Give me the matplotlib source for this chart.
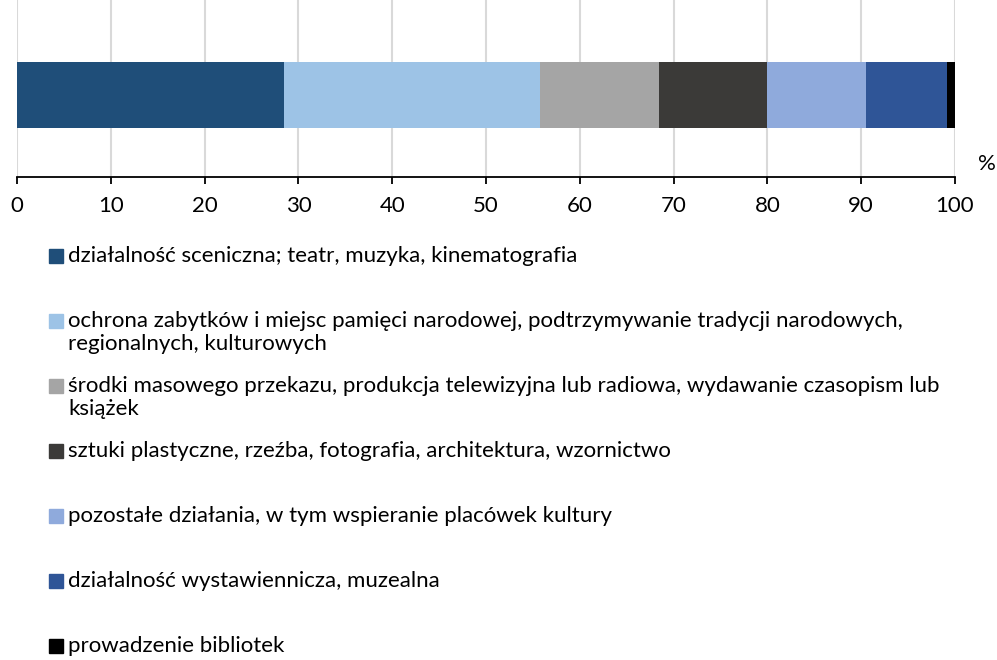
import matplotlib.pyplot as plt
from matplotlib.patches import Rectangle

plt.rcParams['font.family'] = ['Lato', 'DejaVu Sans']

W, H, DPI = 997, 660, 100

categories = [
    'działalność sceniczna; teatr, muzyka, kinematografia',
    'ochrona zabytków i miejsc pamięci narodowej, podtrzymywanie tradycji narodowych,\nregionalnych, kulturowych',
    'środki masowego przekazu, produkcja telewizyjna lub radiowa, wydawanie czasopism lub\nksiążek',
    'sztuki plastyczne, rzeźba, fotografia, architektura, wzornictwo',
    'pozostałe działania, w tym wspieranie placówek kultury',
    'działalność wystawiennicza, muzealna',
    'prowadzenie bibliotek',
]
shares = [28.5, 27.3, 12.6, 11.6, 10.5, 8.6, 0.9]
colors = ['#1f4e79', '#9dc3e6', '#a5a5a5', '#3b3a38', '#8faadc', '#2f5597', '#000000']
ticks = [0, 10, 20, 30, 40, 50, 60, 70, 80, 90, 100]

FS = 16

fig = plt.figure(figsize=(W / DPI, H / DPI), dpi=DPI)
ax = fig.add_axes([17 / W, 1 - 177 / H, (955 - 17) / W, 177 / H])

left = 0
for val, col in zip(shares, colors):
    ax.barh(0, val, left=left, height=1.0, color=col, zorder=3)
    left += val

ax.set_xlim(0, 100)
ax.set_ylim(-1.24, 1.44)
ax.set_xticks(ticks)
ax.set_xticklabels([str(t) for t in ticks], fontsize=FS)
ax.set_yticks([])
ax.grid(axis='x', color='#d9d9d9', linewidth=1.5, zorder=0)
for side in ['top', 'right', 'left']:
    ax.spines[side].set_visible(False)
ax.spines['bottom'].set_linewidth(1.3)
ax.tick_params(axis='x', direction='out', length=5, width=1.3, pad=9)

fig.text(987 / W, 1 - 164 / H, '%', fontsize=FS, ha='center', va='center')

# legend: one slot per entry, square aligned to the first line
y0, step, sq, lh = 256, 65, 14, 23
for i, (lab, col) in enumerate(zip(categories, colors)):
    yc = y0 + i * step
    fig.add_artist(Rectangle((49 / W, 1 - (yc + sq / 2) / H), sq / W, sq / H,
                             transform=fig.transFigure, color=col))
    for k, line in enumerate(lab.split('\n')):
        fig.text(68 / W, 1 - (yc + 6 + k * lh) / H, line, fontsize=FS,
                 ha='left', va='baseline')

fig.savefig('out.png', dpi=DPI)
